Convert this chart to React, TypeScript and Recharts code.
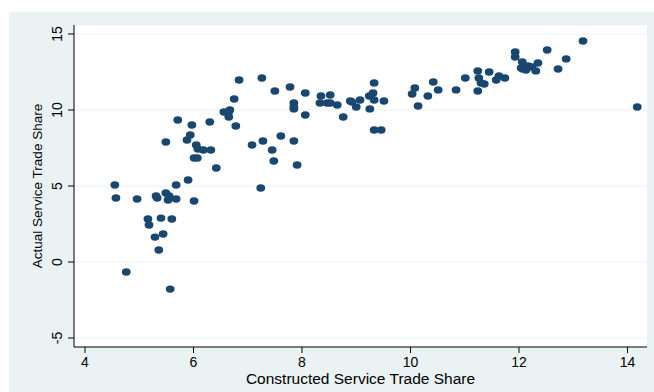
import { ScatterChart, Scatter, XAxis, YAxis, CartesianGrid, Label } from 'recharts';

// values
const constructedShare = [
  4.55, 4.57, 4.76, 4.96, 5.16, 5.18, 5.29, 5.31, 5.33, 5.36, 5.40, 5.44, 5.49, 5.49, 5.53, 5.55, 5.57, 5.60, 5.68, 5.68,
  5.71, 5.88, 5.90, 5.94, 5.97, 6.01, 6.01, 6.05, 6.07, 6.08, 6.18, 6.30, 6.32, 6.42, 6.56, 6.65, 6.67, 6.65, 6.75, 6.78,
  6.84, 7.08, 7.24, 7.26, 7.28, 7.45, 7.48, 7.50, 7.61, 7.78, 7.85, 7.85, 7.85, 7.85, 7.91, 8.06, 8.06, 8.33, 8.35, 8.46,
  8.52, 8.52, 8.65, 8.76, 8.89, 8.92, 9.00, 9.07, 9.24, 9.31, 9.33, 9.33, 9.25, 9.33, 9.46, 9.51, 10.03, 10.08, 10.14, 10.32,
  10.42, 10.51, 10.84, 11.01, 11.24, 11.26, 11.30, 11.36, 11.24, 11.45, 11.58, 11.63, 11.74, 11.93, 11.93, 12.06, 12.07, 12.17, 12.24, 12.31,
  12.35, 12.04, 12.13, 12.52, 12.72, 12.87, 13.18, 14.18,
];
const actualShare = [
  5.07, 4.21, -0.66, 4.14, 2.83, 2.43, 1.64, 4.34, 4.21, 0.79, 2.89, 1.84, 7.89, 4.54, 4.08, 4.34, -1.78, 2.83, 5.07, 4.14,
  9.34, 8.03, 5.39, 8.36, 9.01, 6.84, 4.01, 7.70, 6.84, 7.43, 7.37, 9.21, 7.37, 6.18, 9.87, 9.87, 10.00, 9.54, 10.72, 8.95,
  11.97, 7.70, 4.87, 12.10, 7.96, 7.37, 6.64, 11.25, 8.29, 11.51, 7.96, 10.46, 10.20, 10.07, 6.38, 11.12, 9.67, 10.46, 10.92, 10.46,
  10.99, 10.46, 10.33, 9.54, 10.59, 10.53, 10.20, 10.66, 10.92, 11.12, 11.78, 10.66, 10.07, 8.68, 8.68, 10.59, 11.05, 11.45, 10.26, 10.92,
  11.84, 11.32, 11.32, 12.10, 12.57, 12.10, 11.78, 11.71, 11.25, 12.50, 11.97, 12.24, 12.10, 13.82, 13.49, 13.16, 12.70, 12.89, 12.83, 12.57,
  13.09, 12.76, 12.63, 13.95, 12.70, 13.36, 14.54, 10.20,
];
const xTicks = [4, 6, 8, 10, 12, 14];
const yTicks = [-5, 0, 5, 10, 15];

const data = constructedShare.map((x, i) => ({ x, y: actualShare[i] }));

const FONT = '"Liberation Sans", Arial, Helvetica, sans-serif';
const NAVY = '#1a476f';
const BLUISH = '#eaf2f3';

const XTick = (p: any) => (
  <text x={p.x} y={p.y + 14} textAnchor="middle" fontSize={14} fontFamily={FONT} fill="#000">
    {p.payload.value}
  </text>
);

const YTick = (p: any) => (
  <text x={p.x - 6} y={p.y} transform={`rotate(-90, ${p.x - 6}, ${p.y})`} textAnchor="middle"
    fontSize={14} fontFamily={FONT} fill="#000">
    {p.payload.value}
  </text>
);

const Dot = (p: any) => <ellipse cx={p.cx} cy={p.cy} rx={4.4} ry={3.7} fill={NAVY} />;

export default function App() {
  return (
    <div style={{ position: 'absolute', left: 0, top: 0, width: 654, height: 392, background: '#fff' }}>
      <div style={{ position: 'absolute', left: 9, top: 12, width: 645, height: 380, background: BLUISH }}>
        <ScatterChart width={645} height={380} margin={{ top: 13, right: 7, bottom: 0, left: 0 }}>
          <CartesianGrid vertical={false} stroke={BLUISH} fill="#fff" />
          <XAxis type="number" dataKey="x" domain={[3.797, 14.36]} ticks={xTicks} allowDataOverflow
            height={45} tickSize={6} tickMargin={0} tick={XTick}
            axisLine={{ stroke: '#000' }} tickLine={{ stroke: '#000' }}>
            <Label content={(p: any) => (
              <text x={p.viewBox.x + p.viewBox.width / 2} y={p.viewBox.y + 37} textAnchor="middle"
                fontSize={15.5} fontFamily={FONT} fill="#000">Constructed Service Trade Share</text>
            )} />
          </XAxis>
          <YAxis type="number" dataKey="y" domain={[-5.59, 15.59]} ticks={yTicks} allowDataOverflow
            width={65} tickSize={6} tickMargin={0} tick={YTick}
            axisLine={{ stroke: '#000' }} tickLine={{ stroke: '#000' }}>
            <Label content={(p: any) => {
              const cx = p.viewBox.x + 33;
              const cy = p.viewBox.y + p.viewBox.height / 2;
              return (
                <text x={cx} y={cy} transform={`rotate(-90, ${cx}, ${cy})`} textAnchor="middle"
                  fontSize={13.5} fontFamily={FONT} fill="#000">Actual Service Trade Share</text>
              );
            }} />
          </YAxis>
          <Scatter data={data} shape={Dot} isAnimationActive={false} />
        </ScatterChart>
      </div>
    </div>
  );
}
